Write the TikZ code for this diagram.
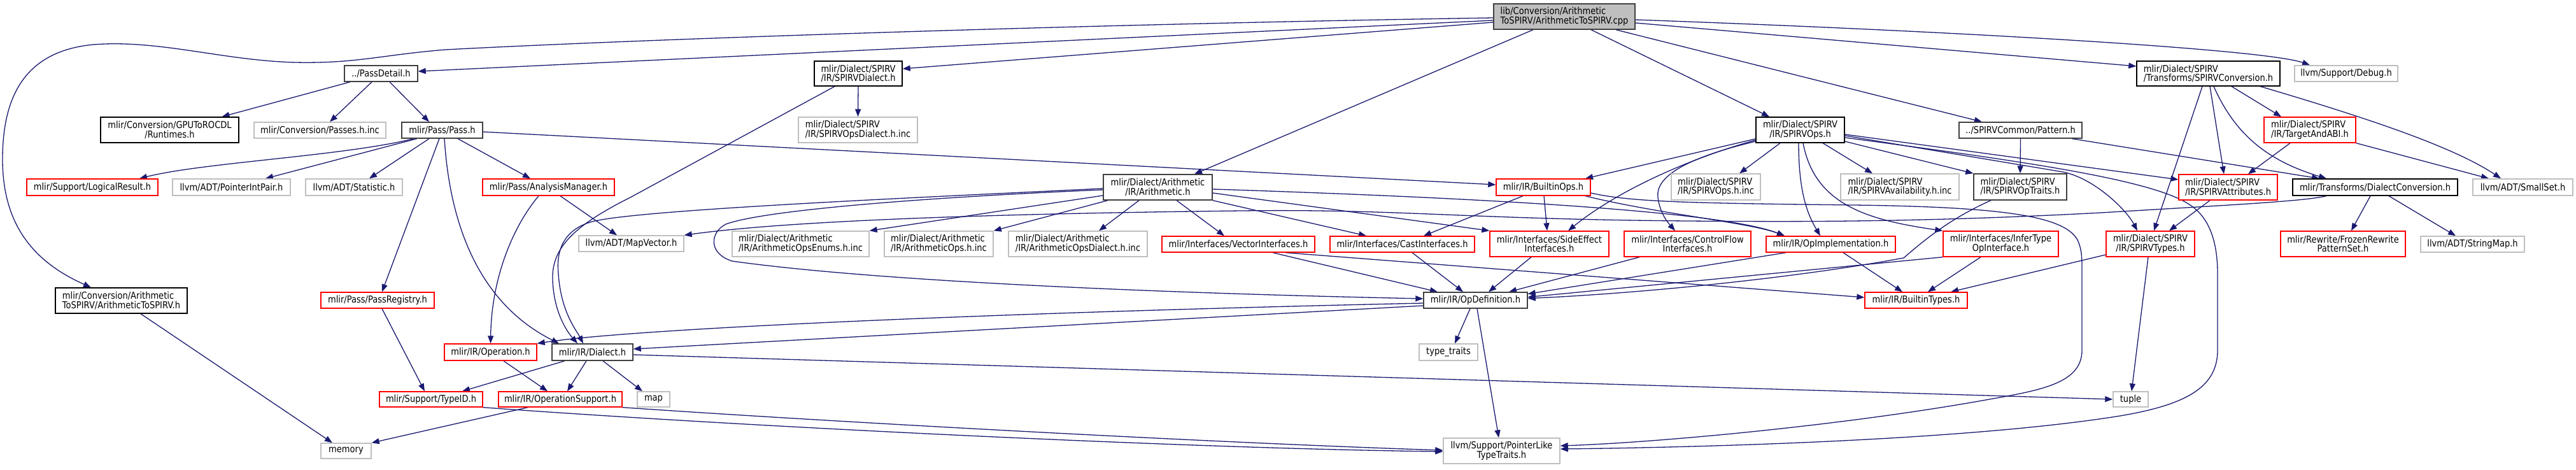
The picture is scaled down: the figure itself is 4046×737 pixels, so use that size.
\documentclass[tikz,border=0pt]{standalone}
\usepackage{fontspec}
\setmainfont{DejaVu Sans}[FakeStretch=0.87]
\usetikzlibrary{arrows.meta}
\definecolor{edgec}{HTML}{191970}
\definecolor{grayb}{HTML}{BFBFBF}
\definecolor{darkb}{HTML}{404040}
\pgfdeclarelayer{bg}
\pgfdeclarelayer{edges}
\pgfsetlayers{bg,edges,main}
\begin{document}
\begin{tikzpicture}[x=1pt,y=-1pt,
  nd/.style={draw, line width=1.4pt, fill=white, inner sep=0pt, text=black, font=\fontsize{15}{14.5}\selectfont, anchor=center},
  blk/.style={nd, draw=black},
  dk/.style={nd, draw=darkb},
  rd/.style={nd, draw=red},
  gy/.style={nd, draw=grayb},
  sz/.style 2 args={minimum width=#1pt, minimum height=#2pt},
  edg/.style={draw=edgec, line width=1.3pt, -{Triangle[length=12pt,width=9pt]}},
]
\begin{pgfonlayer}{bg}
\fill[white] (0,0) rectangle (4046,737);
\end{pgfonlayer}
\useasboundingbox (0,0) rectangle (4046,737);

\node[dk,sz={222}{40},fill=grayb,align=left] (top) at (2457,26) {lib/Conversion/Arithmetic\\ToSPIRV/ArithmeticToSPIRV.cpp};
\node[dk,sz={115}{25}] (passdetail) at (598.5,115.5) {../PassDetail.h};
\node[blk,sz={217}{40},align=center] (runtimes) at (266.5,204) {mlir/Conversion/GPUToROCDL\\/Runtimes.h};
\node[gy,sz={207}{25}] (passesinc) at (502.5,204.5) {mlir/Conversion/Passes.h.inc};
\node[dk,sz={127}{25}] (pass) at (694.5,204.5) {mlir/Pass/Pass.h};
\node[rd,sz={206}{26}] (logical) at (145,294) {mlir/Support/LogicalResult.h};
\node[gy,sz={185}{26}] (ptrintpair) at (363.5,294) {llvm/ADT/PointerIntPair.h};
\node[gy,sz={152}{26}] (statistic) at (556,294) {llvm/ADT/Statistic.h};
\node[blk,sz={138}{39},align=left] (spirvdialect) at (1348,115.5) {mlir/Dialect/SPIRV\\/IR/SPIRVDialect.h};
\node[gy,sz={187}{40},align=left] (spirvopsdialectinc) at (1347.5,204) {mlir/Dialect/SPIRV\\/IR/SPIRVOpsDialect.h.inc};
\node[rd,sz={207}{26}] (analysis) at (861.5,294) {mlir/Pass/AnalysisManager.h};
\node[gy,sz={165}{25}] (mapvector) at (991.5,382.5) {llvm/ADT/MapVector.h};
\node[gy,sz={215}{40},align=left] (enumsinc) at (1257.5,383) {mlir/Dialect/Arithmetic\\/IR/ArithmeticOpsEnums.h.inc};
\node[dk,sz={171}{40},align=center] (arith) at (1818.5,294) {mlir/Dialect/Arithmetic\\/IR/Arithmetic.h};
\node[gy,sz={171}{40},align=left] (opsinc) at (1474.5,383) {mlir/Dialect/Arithmetic\\/IR/ArithmeticOps.h.inc};
\node[gy,sz={218}{40},align=left] (opsdialectinc) at (1693,383) {mlir/Dialect/Arithmetic\\/IR/ArithmeticOpsDialect.h.inc};
\node[rd,sz={240}{25}] (vectorif) at (1945,383.5) {mlir/Interfaces/VectorInterfaces.h};
\node[rd,sz={148}{26}] (builtinops) at (2424,294) {mlir/IR/BuiltinOps.h};
\node[rd,sz={227}{25}] (castif) at (2202.5,383.5) {mlir/Interfaces/CastInterfaces.h};
\node[rd,sz={187}{40},align=center] (sideeffect) at (2433.5,383) {mlir/Interfaces/SideEffect\\Interfaces.h};
\node[rd,sz={199}{40},align=center] (controlflow) at (2650.5,383) {mlir/Interfaces/ControlFlow\\Interfaces.h};
\node[gy,sz={140}{41},align=left] (spirvopsinc) at (2695,293.5) {mlir/Dialect/SPIRV\\/IR/SPIRVOps.h.inc};
\node[blk,sz={139}{40},align=center] (spirvops) at (2827.5,204) {mlir/Dialect/SPIRV\\/IR/SPIRVOps.h};
\node[dk,sz={193}{25}] (pattern) at (3173.5,204.5) {../SPIRVCommon/Pattern.h};
\node[gy,sz={186}{41},align=left] (availinc) at (2984,293.5) {mlir/Dialect/SPIRV\\/IR/SPIRVAvailability.h.inc};
\node[dk,sz={146}{41},align=left] (optraits) at (3173,293.5) {mlir/Dialect/SPIRV\\/IR/SPIRVOpTraits.h};
\node[rd,sz={203}{25}] (opimpl) at (2875.5,383.5) {mlir/IR/OpImplementation.h};
\node[rd,sz={181}{40},align=center] (infertype) at (3142.5,383) {mlir/Interfaces/InferType\\OpInterface.h};
\node[rd,sz={161}{25}] (builtintypes) at (3009.5,471.5) {mlir/IR/BuiltinTypes.h};
\node[blk,sz={225}{39},align=left] (spirvconv) at (3468.5,115.5) {mlir/Dialect/SPIRV\\/Transforms/SPIRVConversion.h};
\node[gy,sz={162}{25}] (debug) at (3685,115.5) {llvm/Support/Debug.h};
\node[rd,sz={144}{40},align=left] (targetabi) at (3628,204) {mlir/Dialect/SPIRV\\/IR/TargetAndABI.h};
\node[rd,sz={155}{40},align=left] (spirvattrs) at (3499.5,294) {mlir/Dialect/SPIRV\\/IR/SPIRVAttributes.h};
\node[blk,sz={259}{26}] (dialectconv) at (3730.5,294) {mlir/Transforms/DialectConversion.h};
\node[gy,sz={157}{26}] (smallset) at (3962.5,294) {llvm/ADT/SmallSet.h};
\node[rd,sz={139}{40},align=center] (spirvtypes) at (3377.5,383) {mlir/Dialect/SPIRV\\/IR/SPIRVTypes.h};
\node[rd,sz={196}{40},align=center] (frozen) at (3680,383) {mlir/Rewrite/FrozenRewrite\\PatternSet.h};
\node[gy,sz={163}{25}] (stringmap) at (3883.5,383.5) {llvm/ADT/StringMap.h};
\node[gy,sz={55}{24}] (tuple) at (3346.5,627) {tuple};
\node[blk,sz={207}{40},align=left] (arithtospirvh) at (190.5,472) {mlir/Conversion/Arithmetic\\ToSPIRV/ArithmeticToSPIRV.h};
\node[rd,sz={178}{25}] (passregistry) at (593,471.5) {mlir/Pass/PassRegistry.h};
\node[rd,sz={162}{24}] (typeid) at (677,627) {mlir/Support/TypeID.h};
\node[gy,sz={79}{24}] (memory) at (543.5,708) {memory};
\node[rd,sz={145}{26}] (operation) at (770.5,553) {mlir/IR/Operation.h};
\node[dk,sz={127}{26}] (dialect) at (930.5,553) {mlir/IR/Dialect.h};
\node[rd,sz={194}{24}] (opsupport) at (880,627) {mlir/IR/OperationSupport.h};
\node[gy,sz={51}{24}] (map) at (1026.5,627) {map};
\node[dk,sz={163}{25}] (opdef) at (2317.5,471.5) {mlir/IR/OpDefinition.h};
\node[gy,sz={92}{26}] (typetraits) at (2275,553) {type\_traits};
\node[gy,sz={183}{40},align=center] (pointerlike) at (2358.5,708) {llvm/Support/PointerLike\\TypeTraits.h};

\begin{pgfonlayer}{edges}
% from the .cpp
\draw[edg] ([yshift=-2pt]top.west) .. controls (1700,38) and (1000,62) .. (700,78) .. controls (600,86) and (560,100) .. (464,98) .. controls (350,95) and (250,62) .. (147,70) .. controls (40,80) and (4,150) .. (4,250) .. controls (4,350) and (50,410) .. ([xshift=-47.5pt]arithtospirvh.north);
\draw[edg] ([yshift=-6pt]top.west) -- ([yshift=3.5pt]passdetail.east);
\draw[edg] ([yshift=-9pt]top.west) -- ([yshift=7.5pt]spirvdialect.east);
\draw[edg] ([xshift=-49pt]top.south) -- ([xshift=57.5pt]arith.north);
\draw[edg] ([xshift=42pt]top.south) -- ([xshift=-48.5pt]spirvops.north);
\draw[edg] ([xshift=81pt]top.south) -- ([xshift=-60.5pt]pattern.north);
\draw[edg] ([yshift=-10pt]top.east) -- ([yshift=11.5pt]spirvconv.west);
\draw[edg] ([yshift=-5pt]top.east) .. controls (3100,50) and (3560,78) .. ([xshift=-57pt]debug.north);
% PassDetail
\draw[edg] ([xshift=-48.5pt]passdetail.south) -- ([xshift=82pt]runtimes.north);
\draw[edg] ([xshift=-14.5pt]passdetail.south) -- ([xshift=15.5pt]passesinc.north);
\draw[edg] ([xshift=13.5pt]passdetail.south) -- ([xshift=-20.5pt]pass.north);
% Pass
\draw[edg] ([xshift=-44.5pt]pass.south) .. controls (540,245) and (320,255) .. ([xshift=74pt]logical.north);
\draw[edg] ([xshift=-39.5pt]pass.south) -- ([xshift=53.5pt]ptrintpair.north);
\draw[edg] ([xshift=-20.5pt]pass.south) -- ([xshift=24pt]statistic.north);
\draw[edg] ([xshift=24.5pt]pass.south) -- ([xshift=-28.5pt]analysis.north);
\draw[edg] ([yshift=-2.5pt]pass.east) -- ([yshift=4pt]builtinops.west);
\draw[edg] ([xshift=-4.5pt]pass.south) -- ([xshift=7pt]passregistry.north);
\draw[edg] ([xshift=3.5pt]pass.south) .. controls (705,330) and (740,470) .. ([xshift=-52.5pt]dialect.north);
% SPIRVDialect
\draw[edg] (spirvdialect.south) -- (spirvopsdialectinc.north);
\draw[edg] ([xshift=-37pt]spirvdialect.south) -- (990,310) .. controls (900,355) and (866,390) .. (868,440) .. controls (870,490) and (890,520) .. ([xshift=-23.5pt]dialect.north);
% AnalysisManager
\draw[edg] ([xshift=-15.5pt]analysis.south) .. controls (810,350) and (772,430) .. (operation.north);
\draw[edg] ([xshift=18.5pt]analysis.south) -- ([xshift=-22.5pt]mapvector.north);
% Arithmetic.h
\draw[edg] ([yshift=-13pt]arith.west) -- (enumsinc.north east);
\draw[edg] ([xshift=-78.5pt]arith.south) -- (opsinc.north east);
\draw[edg] ([xshift=-29.5pt]arith.south) -- ([xshift=33pt]opsdialectinc.north);
\draw[edg] ([xshift=29.5pt]arith.south) -- ([xshift=-22pt]vectorif.north);
\draw[edg] ([yshift=-2pt]arith.west) .. controls (1400,312) and (1000,330) .. (930,348) .. controls (880,362) and (874,400) .. (877,430) .. controls (881,490) and (905,518) .. ([xshift=-14.5pt]dialect.north);
\draw[edg] ([yshift=-4pt]arith.west) .. controls (1450,310) and (1200,330) .. (1140,352) .. controls (1115,365) and (1112,398) .. (1150,410) .. controls (1400,445) and (1900,462) .. ([yshift=2.5pt]opdef.west);
\draw[edg] ([yshift=-3pt]arith.east) .. controls (2300,310) and (2700,330) .. ([xshift=-72.5pt]opimpl.north);
\draw[edg] ([yshift=-9pt]arith.east) -- (sideeffect.north west);
\draw[edg] (arith.south east) -- ([xshift=-56.5pt]castif.north);
% BuiltinOps
\draw[edg] ([xshift=-32pt]builtinops.south) -- ([xshift=33.5pt]castif.north);
\draw[edg] ([xshift=1pt]builtinops.south) -- ([xshift=-3.5pt]sideeffect.north);
\draw[edg] ([xshift=66pt]builtinops.south) .. controls (2600,335) and (2750,350) .. ([xshift=-72.5pt]opimpl.north);
\draw[edg] ([yshift=-9pt]builtinops.east) .. controls (2560,317) and (2650,319) .. (2912,322) .. controls (3150,325) and (3240,340) .. (3262,375) .. controls (3270,390) and (3270,405) .. (3270,425) -- (3270,550) .. controls (3270,600) and (3210,612) .. (3130,626) .. controls (2900,668) and (2600,695) .. ([yshift=8pt]pointerlike.east);
% SPIRVOps
\draw[edg] ([yshift=-14pt]spirvops.west) -- ([xshift=66pt]builtinops.north);
\draw[edg] ([yshift=-16pt]spirvops.west) .. controls (2650,250) and (2540,300) .. ([xshift=29.5pt]sideeffect.north);
\draw[edg] ([yshift=-18pt]spirvops.west) .. controls (2640,250) and (2600,280) .. (2604,310) .. controls (2607,335) and (2620,350) .. ([xshift=-19.5pt]controlflow.north);
\draw[edg] ([xshift=-31.5pt]spirvops.south) -- ([xshift=37pt]spirvopsinc.north);
\draw[edg] ([xshift=-2.5pt]spirvops.south) .. controls (2825,300) and (2838,335) .. ([xshift=-16.5pt]opimpl.north);
\draw[edg] ([xshift=4.5pt]spirvops.south) .. controls (2850,320) and (2930,345) .. (infertype.north west);
\draw[edg] ([xshift=35.5pt]spirvops.south) -- ([xshift=-43pt]availinc.north);
\draw[edg] ([yshift=-18pt]spirvops.east) -- (optraits.north west);
\draw[edg] ([yshift=-7pt]spirvops.east) -- ([yshift=12pt]spirvattrs.west);
\draw[edg] ([yshift=-9pt]spirvops.east) -- (3240,270) .. controls (3290,280) and (3340,330) .. ([xshift=-20.5pt]spirvtypes.north);
\draw[edg] ([yshift=-12pt]spirvops.east) .. controls (3150,250) and (3380,280) .. (3440,322) .. controls (3475,345) and (3483,390) .. (3483,430) -- (3483,550) .. controls (3483,610) and (3430,636) .. (3330,653) .. controls (3100,690) and (2700,702) .. ([yshift=3pt]pointerlike.east);
% Pattern, OpTraits
\draw[edg] (pattern.south) -- (optraits.north);
\draw[edg] ([xshift=80.5pt]pattern.south) -- ([xshift=-87.5pt]dialectconv.north);
\draw[edg] ([xshift=-46pt]optraits.south) .. controls (3070,340) and (3030,370) .. (2990,405) .. controls (2800,440) and (2550,462) .. ([yshift=3pt]opdef.east);
% OpImplementation, InferType
\draw[edg] ([xshift=-70.5pt]opimpl.south) -- ([yshift=10pt]opdef.east);
\draw[edg] ([xshift=19.5pt]opimpl.south) -- ([xshift=-21.5pt]builtintypes.north);
\draw[edg] (infertype.south west) -- ([yshift=5pt]opdef.east);
\draw[edg] ([xshift=-31.5pt]infertype.south) -- ([xshift=18.5pt]builtintypes.north);
% interfaces to OpDefinition
\draw[edg] ([xshift=54pt]vectorif.south) -- ([xshift=-59.5pt]opdef.north);
\draw[edg] ([xshift=74pt]vectorif.south) -- ([yshift=4.5pt]builtintypes.west);
\draw[edg] ([xshift=15.5pt]castif.south) -- ([xshift=-19.5pt]opdef.north);
\draw[edg] ([xshift=-28.5pt]sideeffect.south) -- ([xshift=20.5pt]opdef.north);
\draw[edg] ([xshift=-75.5pt]controlflow.south) -- ([xshift=52.5pt]opdef.north);
% SPIRVConversion
\draw[edg] ([xshift=-9.5pt]spirvconv.south) -- ([xshift=5.5pt]spirvtypes.north);
\draw[edg] ([xshift=2.5pt]spirvconv.south) -- ([xshift=-6.5pt]spirvattrs.north);
\draw[edg] ([xshift=8.5pt]spirvconv.south) .. controls (3510,210) and (3560,252) .. ([xshift=-76.5pt]dialectconv.north);
\draw[edg] ([xshift=36.5pt]spirvconv.south) -- ([xshift=-45pt]targetabi.north);
\draw[edg] ([xshift=81.5pt]spirvconv.south) .. controls (3700,180) and (3850,228) .. ([xshift=-34.5pt]smallset.north);
\draw[edg] ([xshift=-31pt]targetabi.south) -- ([xshift=31.5pt]spirvattrs.north);
\draw[edg] (targetabi.south east) -- ([xshift=-53.5pt]smallset.north);
\draw[edg] ([xshift=-28.5pt]spirvattrs.south) -- ([xshift=29.5pt]spirvtypes.north);
% DialectConversion
\draw[edg] ([xshift=-7.5pt]dialectconv.south) -- ([xshift=13pt]frozen.north);
\draw[edg] ([xshift=21.5pt]dialectconv.south) -- ([xshift=-26.5pt]stringmap.north);
\draw[edg] ([xshift=-76.5pt]dialectconv.south) .. controls (3620,316) and (3500,322) .. (3300,334) .. controls (3000,350) and (2800,348) .. (2650,347) .. controls (2300,344) and (2200,328) .. (1950,331) .. controls (1600,335) and (1250,345) .. (mapvector.north east);
% SPIRVTypes
\draw[edg] ([yshift=-17pt]spirvtypes.west) -- ([xshift=54.5pt]builtintypes.north);
\draw[edg] ([xshift=-3.5pt]spirvtypes.south) -- ([xshift=1.5pt]tuple.north);
% OpDefinition
\draw[edg] ([xshift=-8.5pt]opdef.south) -- ([xshift=10pt]typetraits.north);
\draw[edg] ([xshift=2.5pt]opdef.south) -- ([xshift=-4.5pt]pointerlike.north);
\draw[edg] ([yshift=-4.5pt]opdef.west) .. controls (1600,490) and (1000,515) .. (operation.north east);
\draw[edg] ([yshift=-8.5pt]opdef.west) -- ([yshift=5pt]dialect.east);
% Dialect, Operation
\draw[edg] ([xshift=-43.5pt]dialect.south) -- ([xshift=49pt]typeid.north);
\draw[edg] ([xshift=-9.5pt]dialect.south) -- ([xshift=11pt]opsupport.north);
\draw[edg] ([xshift=16.5pt]dialect.south) -- ([xshift=-17.5pt]map.north);
\draw[edg] ([yshift=-4pt]dialect.east) -- (tuple.west);
\draw[edg] ([xshift=20.5pt]operation.south) -- ([xshift=-20pt]opsupport.north);
% OperationSupport, TypeID, PassRegistry, ArithmeticToSPIRV.h
\draw[edg] ([xshift=-51pt]opsupport.south) -- (memory.north east);
\draw[edg] (opsupport.south east) .. controls (1300,662) and (1900,695) .. ([yshift=1pt]pointerlike.west);
\draw[edg] (typeid.south east) .. controls (1200,672) and (1900,705) .. ([yshift=-1pt]pointerlike.west);
\draw[edg] ([xshift=7pt]passregistry.south) -- ([xshift=-10pt]typeid.north);
\draw[edg] ([xshift=30.5pt]arithtospirvh.south) -- ([xshift=-21.5pt]memory.north);
\end{pgfonlayer}
\end{tikzpicture}
\end{document}
